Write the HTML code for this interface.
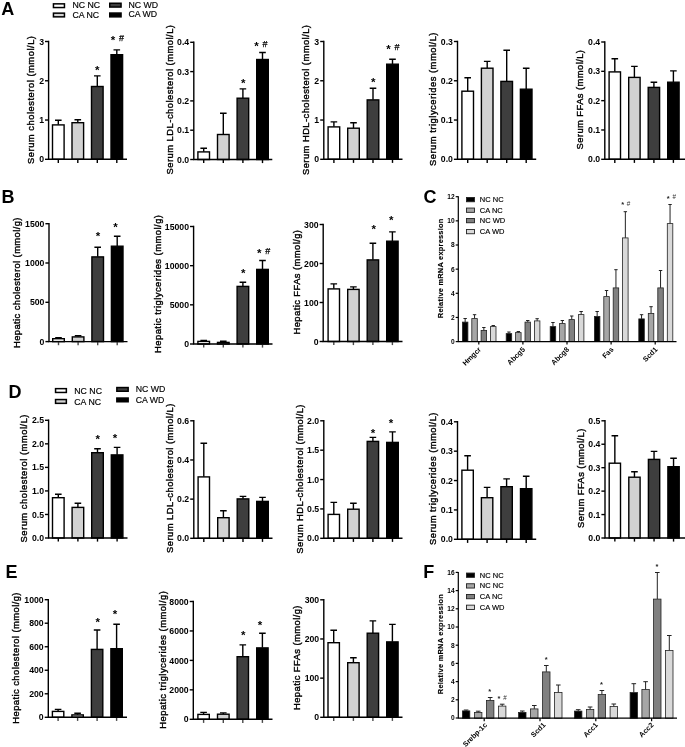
<!DOCTYPE html>
<html><head><meta charset="utf-8"><title>Figure</title>
<style>
html,body{margin:0;padding:0;background:#fff}
svg{display:block}
text{font-family:"Liberation Sans",sans-serif;fill:#000}
.l{stroke:#000;stroke-width:1.4;fill:none}
.b{stroke:#000;stroke-width:1.4}
.l2{stroke:#222;stroke-width:1;fill:none}
.b2{stroke:#222;stroke-width:0.8}
.l3{stroke:#000;stroke-width:1.2;fill:none}
.t{font-weight:bold;text-anchor:end}
.yl{text-anchor:middle;stroke:#000;stroke-width:0.38}
.lg{stroke:#000;stroke-width:0.15}
.yb{text-anchor:middle;font-weight:bold;stroke:#000;stroke-width:0.15}
.s{font-size:9px;text-anchor:middle;stroke:#000;stroke-width:0.25}
.st{font-size:11.5px;font-weight:bold;text-anchor:middle}
.s2{font-size:6.3px;text-anchor:middle;fill:#333}
.st2{font-size:7.5px;font-weight:bold;text-anchor:middle;fill:#222}
.p{font-size:18px;font-weight:bold}
.xl{font-size:7.2px;font-weight:bold;text-anchor:end}
</style></head><body>
<svg width="685" height="747" viewBox="0 0 685 747">
<rect width="685" height="747" fill="#fff"/>
<path d="M58.30 124.70V120.20M55.00 120.20H61.60" class="l"/>
<rect x="52.50" y="124.90" width="11.60" height="34.40" fill="#ffffff" class="b"/>
<path d="M58.30 159.30V162.90" class="l" style="stroke:#000"/>
<path d="M77.80 122.50V119.70M74.50 119.70H81.10" class="l"/>
<rect x="72.00" y="122.70" width="11.60" height="36.60" fill="#d2d2d2" class="b"/>
<path d="M77.80 159.30V162.90" class="l" style="stroke:#000"/>
<path d="M97.30 86.30V75.90M94.00 75.90H100.60" class="l"/>
<rect x="91.50" y="86.50" width="11.60" height="72.80" fill="#3e3e3e" class="b"/>
<path d="M97.30 159.30V162.90" class="l" style="stroke:#000"/>
<path d="M116.80 54.50V49.90M113.50 49.90H120.10" class="l"/>
<rect x="111.00" y="54.70" width="11.60" height="104.60" fill="#000000" class="b"/>
<path d="M116.80 159.30V162.90" class="l" style="stroke:#000"/>
<path d="M48.60 40.80V159.30M47.90 159.30H127.00" class="l"/>
<path d="M45.00 41.50H48.60" class="l"/>
<text x="44.00" y="44.61" class="t" font-size="8.7">3</text>
<path d="M45.00 80.77H48.60" class="l"/>
<text x="44.00" y="83.88" class="t" font-size="8.7">2</text>
<path d="M45.00 120.03H48.60" class="l"/>
<text x="44.00" y="123.15" class="t" font-size="8.7">1</text>
<path d="M45.00 159.30H48.60" class="l"/>
<text x="44.00" y="162.41" class="t" font-size="8.7">0</text>
<text transform="translate(33.57 100.00) rotate(-90)" class="yl" font-size="9.4" textLength="128.0" lengthAdjust="spacing">Serum cholesterol (mmol/L)</text>
<text x="97.30" y="73.60" class="st">*</text>
<text x="112.90" y="44.10" class="st">*</text><text x="121.40" y="41.20" class="s">#</text>
<path d="M203.70 151.70V148.20M200.40 148.20H207.00" class="l"/>
<rect x="197.90" y="151.90" width="11.60" height="7.60" fill="#ffffff" class="b"/>
<path d="M203.70 159.50V163.10" class="l" style="stroke:#000"/>
<path d="M223.30 134.30V113.20M220.00 113.20H226.60" class="l"/>
<rect x="217.50" y="134.50" width="11.60" height="25.00" fill="#d2d2d2" class="b"/>
<path d="M223.30 159.50V163.10" class="l" style="stroke:#000"/>
<path d="M242.90 98.00V88.90M239.60 88.90H246.20" class="l"/>
<rect x="237.10" y="98.20" width="11.60" height="61.30" fill="#3e3e3e" class="b"/>
<path d="M242.90 159.50V163.10" class="l" style="stroke:#000"/>
<path d="M262.50 59.30V52.50M259.20 52.50H265.80" class="l"/>
<rect x="256.70" y="59.50" width="11.60" height="100.00" fill="#000000" class="b"/>
<path d="M262.50 159.50V163.10" class="l" style="stroke:#000"/>
<path d="M193.80 41.60V159.50M193.10 159.50H272.30" class="l"/>
<path d="M190.20 42.30H193.80" class="l"/>
<text x="189.20" y="45.41" class="t" font-size="8.7">0.4</text>
<path d="M190.20 71.60H193.80" class="l"/>
<text x="189.20" y="74.71" class="t" font-size="8.7">0.3</text>
<path d="M190.20 100.90H193.80" class="l"/>
<text x="189.20" y="104.01" class="t" font-size="8.7">0.2</text>
<path d="M190.20 130.20H193.80" class="l"/>
<text x="189.20" y="133.31" class="t" font-size="8.7">0.1</text>
<path d="M190.20 159.50H193.80" class="l"/>
<text x="189.20" y="162.61" class="t" font-size="8.7">0.0</text>
<text transform="translate(173.07 99.75) rotate(-90)" class="yl" font-size="9.4" textLength="149.5" lengthAdjust="spacing">Serum LDL-cholesterol (mmol/L)</text>
<text x="243.20" y="86.60" class="st">*</text>
<text x="256.60" y="49.80" class="st">*</text><text x="265.10" y="46.90" class="s">#</text>
<path d="M333.90 126.70V121.90M330.60 121.90H337.20" class="l"/>
<rect x="328.10" y="126.90" width="11.60" height="32.40" fill="#ffffff" class="b"/>
<path d="M333.90 159.30V162.90" class="l" style="stroke:#000"/>
<path d="M353.50 128.00V122.70M350.20 122.70H356.80" class="l"/>
<rect x="347.70" y="128.20" width="11.60" height="31.10" fill="#d2d2d2" class="b"/>
<path d="M353.50 159.30V162.90" class="l" style="stroke:#000"/>
<path d="M373.00 99.70V88.20M369.70 88.20H376.30" class="l"/>
<rect x="367.20" y="99.90" width="11.60" height="59.40" fill="#3e3e3e" class="b"/>
<path d="M373.00 159.30V162.90" class="l" style="stroke:#000"/>
<path d="M392.50 64.00V59.20M389.20 59.20H395.80" class="l"/>
<rect x="386.70" y="64.20" width="11.60" height="95.10" fill="#000000" class="b"/>
<path d="M392.50 159.30V162.90" class="l" style="stroke:#000"/>
<path d="M323.80 40.80V159.30M323.10 159.30H402.50" class="l"/>
<path d="M320.20 41.50H323.80" class="l"/>
<text x="319.20" y="44.61" class="t" font-size="8.7">3</text>
<path d="M320.20 80.77H323.80" class="l"/>
<text x="319.20" y="83.88" class="t" font-size="8.7">2</text>
<path d="M320.20 120.03H323.80" class="l"/>
<text x="319.20" y="123.15" class="t" font-size="8.7">1</text>
<path d="M320.20 159.30H323.80" class="l"/>
<text x="319.20" y="162.41" class="t" font-size="8.7">0</text>
<text transform="translate(309.27 100.00) rotate(-90)" class="yl" font-size="9.4" textLength="150.0" lengthAdjust="spacing">Serum HDL-cholesterol (mmol/L)</text>
<text x="373.20" y="86.10" class="st">*</text>
<text x="388.60" y="52.80" class="st">*</text><text x="397.10" y="49.90" class="s">#</text>
<path d="M467.70 91.00V77.70M464.40 77.70H471.00" class="l"/>
<rect x="461.90" y="91.20" width="11.60" height="68.10" fill="#ffffff" class="b"/>
<path d="M467.70 159.30V162.90" class="l" style="stroke:#000"/>
<path d="M487.20 68.00V61.40M483.90 61.40H490.50" class="l"/>
<rect x="481.40" y="68.20" width="11.60" height="91.10" fill="#d2d2d2" class="b"/>
<path d="M487.20 159.30V162.90" class="l" style="stroke:#000"/>
<path d="M506.70 81.20V50.20M503.40 50.20H510.00" class="l"/>
<rect x="500.90" y="81.40" width="11.60" height="77.90" fill="#3e3e3e" class="b"/>
<path d="M506.70 159.30V162.90" class="l" style="stroke:#000"/>
<path d="M526.20 89.00V68.20M522.90 68.20H529.50" class="l"/>
<rect x="520.40" y="89.20" width="11.60" height="70.10" fill="#000000" class="b"/>
<path d="M526.20 159.30V162.90" class="l" style="stroke:#000"/>
<path d="M457.50 40.80V159.30M456.80 159.30H536.20" class="l"/>
<path d="M453.90 41.50H457.50" class="l"/>
<text x="452.90" y="44.61" class="t" font-size="8.7">0.3</text>
<path d="M453.90 80.77H457.50" class="l"/>
<text x="452.90" y="83.88" class="t" font-size="8.7">0.2</text>
<path d="M453.90 120.03H457.50" class="l"/>
<text x="452.90" y="123.15" class="t" font-size="8.7">0.1</text>
<path d="M453.90 159.30H457.50" class="l"/>
<text x="452.90" y="162.41" class="t" font-size="8.7">0.0</text>
<text transform="translate(436.27 99.25) rotate(-90)" class="yl" font-size="9.4" textLength="133.5" lengthAdjust="spacing">Serum triglycerides (mmol/L)</text>
<path d="M614.80 71.70V58.70M611.50 58.70H618.10" class="l"/>
<rect x="609.10" y="71.90" width="11.40" height="87.40" fill="#ffffff" class="b"/>
<path d="M614.80 159.30V162.90" class="l" style="stroke:#000"/>
<path d="M634.40 77.20V66.40M631.10 66.40H637.70" class="l"/>
<rect x="628.70" y="77.40" width="11.40" height="81.90" fill="#d2d2d2" class="b"/>
<path d="M634.40 159.30V162.90" class="l" style="stroke:#000"/>
<path d="M653.90 87.20V82.20M650.60 82.20H657.20" class="l"/>
<rect x="648.20" y="87.40" width="11.40" height="71.90" fill="#3e3e3e" class="b"/>
<path d="M653.90 159.30V162.90" class="l" style="stroke:#000"/>
<path d="M673.40 82.00V70.90M670.10 70.90H676.70" class="l"/>
<rect x="667.70" y="82.20" width="11.40" height="77.10" fill="#000000" class="b"/>
<path d="M673.40 159.30V162.90" class="l" style="stroke:#000"/>
<path d="M604.80 41.30V159.30M604.10 159.30H686.00" class="l"/>
<path d="M601.20 42.00H604.80" class="l"/>
<text x="600.20" y="45.11" class="t" font-size="8.7">0.4</text>
<path d="M601.20 71.33H604.80" class="l"/>
<text x="600.20" y="74.44" class="t" font-size="8.7">0.3</text>
<path d="M601.20 100.65H604.80" class="l"/>
<text x="600.20" y="103.76" class="t" font-size="8.7">0.2</text>
<path d="M601.20 129.98H604.80" class="l"/>
<text x="600.20" y="133.09" class="t" font-size="8.7">0.1</text>
<path d="M601.20 159.30H604.80" class="l"/>
<text x="600.20" y="162.41" class="t" font-size="8.7">0.0</text>
<text transform="translate(583.37 99.75) rotate(-90)" class="yl" font-size="9.4" textLength="99.5" lengthAdjust="spacing">Serum FFAs (mmol/L)</text>
<path d="M58.50 338.50V337.70M55.20 337.70H61.80" class="l"/>
<rect x="52.70" y="338.70" width="11.60" height="2.90" fill="#ffffff" class="b"/>
<path d="M58.50 341.60V345.20" class="l" style="stroke:#4a4a4a"/>
<path d="M78.10 336.70V335.70M74.80 335.70H81.40" class="l"/>
<rect x="72.30" y="336.90" width="11.60" height="4.70" fill="#d2d2d2" class="b"/>
<path d="M78.10 341.60V345.20" class="l" style="stroke:#4a4a4a"/>
<path d="M97.70 256.70V247.20M94.40 247.20H101.00" class="l"/>
<rect x="91.90" y="256.90" width="11.60" height="84.70" fill="#3e3e3e" class="b"/>
<path d="M97.70 341.60V345.20" class="l" style="stroke:#4a4a4a"/>
<path d="M117.20 246.00V236.20M113.90 236.20H120.50" class="l"/>
<rect x="111.40" y="246.20" width="11.60" height="95.40" fill="#000000" class="b"/>
<path d="M117.20 341.60V345.20" class="l" style="stroke:#4a4a4a"/>
<path d="M49.00 223.00V341.60M48.30 341.60H127.50" class="l"/>
<path d="M45.40 223.70H49.00" class="l"/>
<text x="44.40" y="226.81" class="t" font-size="8.7">1500</text>
<path d="M45.40 263.00H49.00" class="l"/>
<text x="44.40" y="266.11" class="t" font-size="8.7">1000</text>
<path d="M45.40 302.30H49.00" class="l"/>
<text x="44.40" y="305.41" class="t" font-size="8.7">500</text>
<path d="M45.40 341.60H49.00" class="l"/>
<text x="44.40" y="344.71" class="t" font-size="8.7">0</text>
<text transform="translate(19.87 282.75) rotate(-90)" class="yl" font-size="9.4" textLength="130.5" lengthAdjust="spacing">Hepatic cholesterol (mmol/g)</text>
<text x="98.00" y="239.80" class="st">*</text>
<text x="115.50" y="230.60" class="st">*</text>
<path d="M203.70 341.20V340.40M200.40 340.40H207.00" class="l"/>
<rect x="197.90" y="341.40" width="11.60" height="2.60" fill="#ffffff" class="b"/>
<path d="M203.70 344.00V347.60" class="l" style="stroke:#4a4a4a"/>
<path d="M223.30 342.20V341.20M220.00 341.20H226.60" class="l"/>
<rect x="217.50" y="342.40" width="11.60" height="1.60" fill="#d2d2d2" class="b"/>
<path d="M223.30 344.00V347.60" class="l" style="stroke:#4a4a4a"/>
<path d="M242.90 286.20V282.20M239.60 282.20H246.20" class="l"/>
<rect x="237.10" y="286.40" width="11.60" height="57.60" fill="#3e3e3e" class="b"/>
<path d="M242.90 344.00V347.60" class="l" style="stroke:#4a4a4a"/>
<path d="M262.50 269.20V260.50M259.20 260.50H265.80" class="l"/>
<rect x="256.70" y="269.40" width="11.60" height="74.60" fill="#000000" class="b"/>
<path d="M262.50 344.00V347.60" class="l" style="stroke:#4a4a4a"/>
<path d="M193.60 225.80V344.00M192.90 344.00H272.50" class="l"/>
<path d="M190.00 226.50H193.60" class="l"/>
<text x="189.00" y="229.61" class="t" font-size="8.7">15000</text>
<path d="M190.00 265.67H193.60" class="l"/>
<text x="189.00" y="268.78" class="t" font-size="8.7">10000</text>
<path d="M190.00 304.83H193.60" class="l"/>
<text x="189.00" y="307.95" class="t" font-size="8.7">5000</text>
<path d="M190.00 344.00H193.60" class="l"/>
<text x="189.00" y="347.11" class="t" font-size="8.7">0</text>
<text transform="translate(161.07 284.00) rotate(-90)" class="yl" font-size="9.4" textLength="138.0" lengthAdjust="spacing">Hepatic triglycerides (mmol/g)</text>
<text x="243.20" y="277.10" class="st">*</text>
<text x="259.30" y="256.80" class="st">*</text><text x="267.80" y="253.90" class="s">#</text>
<path d="M333.80 288.70V283.90M330.50 283.90H337.10" class="l"/>
<rect x="328.10" y="288.90" width="11.40" height="52.60" fill="#ffffff" class="b"/>
<path d="M333.80 341.50V345.10" class="l" style="stroke:#4a4a4a"/>
<path d="M353.40 289.20V286.90M350.10 286.90H356.70" class="l"/>
<rect x="347.70" y="289.40" width="11.40" height="52.10" fill="#d2d2d2" class="b"/>
<path d="M353.40 341.50V345.10" class="l" style="stroke:#4a4a4a"/>
<path d="M372.90 259.70V243.20M369.60 243.20H376.20" class="l"/>
<rect x="367.20" y="259.90" width="11.40" height="81.60" fill="#3e3e3e" class="b"/>
<path d="M372.90 341.50V345.10" class="l" style="stroke:#4a4a4a"/>
<path d="M392.40 241.00V231.90M389.10 231.90H395.70" class="l"/>
<rect x="386.70" y="241.20" width="11.40" height="100.30" fill="#000000" class="b"/>
<path d="M392.40 341.50V345.10" class="l" style="stroke:#4a4a4a"/>
<path d="M323.20 223.80V341.50M322.50 341.50H402.50" class="l"/>
<path d="M319.60 224.50H323.20" class="l"/>
<text x="318.60" y="227.61" class="t" font-size="8.7">300</text>
<path d="M319.60 263.50H323.20" class="l"/>
<text x="318.60" y="266.61" class="t" font-size="8.7">200</text>
<path d="M319.60 302.50H323.20" class="l"/>
<text x="318.60" y="305.61" class="t" font-size="8.7">100</text>
<path d="M319.60 341.50H323.20" class="l"/>
<text x="318.60" y="344.61" class="t" font-size="8.7">0</text>
<text transform="translate(299.77 282.25) rotate(-90)" class="yl" font-size="9.4" textLength="104.5" lengthAdjust="spacing">Hepatic FFAs (mmol/g)</text>
<text x="373.70" y="233.10" class="st">*</text>
<text x="391.20" y="223.60" class="st">*</text>
<path d="M58.30 497.50V494.20M55.00 494.20H61.60" class="l"/>
<rect x="52.50" y="497.70" width="11.60" height="40.30" fill="#ffffff" class="b"/>
<path d="M58.30 538.00V541.60" class="l" style="stroke:#000"/>
<path d="M77.90 507.20V503.20M74.60 503.20H81.20" class="l"/>
<rect x="72.10" y="507.40" width="11.60" height="30.60" fill="#d2d2d2" class="b"/>
<path d="M77.90 538.00V541.60" class="l" style="stroke:#000"/>
<path d="M97.50 452.50V448.70M94.20 448.70H100.80" class="l"/>
<rect x="91.70" y="452.70" width="11.60" height="85.30" fill="#3e3e3e" class="b"/>
<path d="M97.50 538.00V541.60" class="l" style="stroke:#000"/>
<path d="M117.10 454.70V447.40M113.80 447.40H120.40" class="l"/>
<rect x="111.30" y="454.90" width="11.60" height="83.10" fill="#000000" class="b"/>
<path d="M117.10 538.00V541.60" class="l" style="stroke:#000"/>
<path d="M48.60 419.60V538.00M47.90 538.00H127.50" class="l"/>
<path d="M45.00 420.30H48.60" class="l"/>
<text x="44.00" y="423.41" class="t" font-size="8.7">2.5</text>
<path d="M45.00 443.84H48.60" class="l"/>
<text x="44.00" y="446.95" class="t" font-size="8.7">2.0</text>
<path d="M45.00 467.38H48.60" class="l"/>
<text x="44.00" y="470.49" class="t" font-size="8.7">1.5</text>
<path d="M45.00 490.92H48.60" class="l"/>
<text x="44.00" y="494.03" class="t" font-size="8.7">1.0</text>
<path d="M45.00 514.46H48.60" class="l"/>
<text x="44.00" y="517.57" class="t" font-size="8.7">0.5</text>
<path d="M45.00 538.00H48.60" class="l"/>
<text x="44.00" y="541.11" class="t" font-size="8.7">0.0</text>
<text transform="translate(26.77 478.50) rotate(-90)" class="yl" font-size="9.4" textLength="128.0" lengthAdjust="spacing">Serum cholesterol (mmol/L)</text>
<text x="97.70" y="442.80" class="st">*</text>
<text x="115.00" y="441.80" class="st">*</text>
<path d="M203.80 476.70V443.20M200.50 443.20H207.10" class="l"/>
<rect x="198.10" y="476.90" width="11.40" height="61.40" fill="#ffffff" class="b"/>
<path d="M203.80 538.30V541.90" class="l" style="stroke:#000"/>
<path d="M223.40 517.50V510.70M220.10 510.70H226.70" class="l"/>
<rect x="217.70" y="517.70" width="11.40" height="20.60" fill="#d2d2d2" class="b"/>
<path d="M223.40 538.30V541.90" class="l" style="stroke:#000"/>
<path d="M243.00 498.70V496.40M239.70 496.40H246.30" class="l"/>
<rect x="237.20" y="498.90" width="11.60" height="39.40" fill="#3e3e3e" class="b"/>
<path d="M243.00 538.30V541.90" class="l" style="stroke:#000"/>
<path d="M262.50 501.20V497.40M259.20 497.40H265.80" class="l"/>
<rect x="256.70" y="501.40" width="11.60" height="36.90" fill="#000000" class="b"/>
<path d="M262.50 538.30V541.90" class="l" style="stroke:#000"/>
<path d="M193.80 420.10V538.30M193.10 538.30H272.50" class="l"/>
<path d="M190.20 420.80H193.80" class="l"/>
<text x="189.20" y="423.91" class="t" font-size="8.7">0.6</text>
<path d="M190.20 459.97H193.80" class="l"/>
<text x="189.20" y="463.08" class="t" font-size="8.7">0.4</text>
<path d="M190.20 499.13H193.80" class="l"/>
<text x="189.20" y="502.25" class="t" font-size="8.7">0.2</text>
<path d="M190.20 538.30H193.80" class="l"/>
<text x="189.20" y="541.41" class="t" font-size="8.7">0.0</text>
<text transform="translate(173.07 478.35) rotate(-90)" class="yl" font-size="9.4" textLength="149.3" lengthAdjust="spacing">Serum LDL-cholesterol (mmol/L)</text>
<path d="M333.80 514.20V502.40M330.50 502.40H337.10" class="l"/>
<rect x="328.10" y="514.40" width="11.40" height="23.90" fill="#ffffff" class="b"/>
<path d="M333.80 538.30V541.90" class="l" style="stroke:#000"/>
<path d="M353.40 509.00V503.20M350.10 503.20H356.70" class="l"/>
<rect x="347.70" y="509.20" width="11.40" height="29.10" fill="#d2d2d2" class="b"/>
<path d="M353.40 538.30V541.90" class="l" style="stroke:#000"/>
<path d="M372.90 441.20V437.40M369.60 437.40H376.20" class="l"/>
<rect x="367.20" y="441.40" width="11.40" height="96.90" fill="#3e3e3e" class="b"/>
<path d="M372.90 538.30V541.90" class="l" style="stroke:#000"/>
<path d="M392.50 442.20V431.90M389.20 431.90H395.80" class="l"/>
<rect x="386.70" y="442.40" width="11.60" height="95.90" fill="#000000" class="b"/>
<path d="M392.50 538.30V541.90" class="l" style="stroke:#000"/>
<path d="M323.80 420.10V538.30M323.10 538.30H402.50" class="l"/>
<path d="M320.20 420.80H323.80" class="l"/>
<text x="319.20" y="423.91" class="t" font-size="8.7">2.0</text>
<path d="M320.20 450.18H323.80" class="l"/>
<text x="319.20" y="453.29" class="t" font-size="8.7">1.5</text>
<path d="M320.20 479.55H323.80" class="l"/>
<text x="319.20" y="482.66" class="t" font-size="8.7">1.0</text>
<path d="M320.20 508.93H323.80" class="l"/>
<text x="319.20" y="512.04" class="t" font-size="8.7">0.5</text>
<path d="M320.20 538.30H323.80" class="l"/>
<text x="319.20" y="541.41" class="t" font-size="8.7">0.0</text>
<text transform="translate(303.07 479.10) rotate(-90)" class="yl" font-size="9.4" textLength="149.2" lengthAdjust="spacing">Serum HDL-cholesterol (mmol/L)</text>
<text x="373.00" y="436.60" class="st">*</text>
<text x="391.00" y="427.30" class="st">*</text>
<path d="M467.60 470.00V455.70M464.30 455.70H470.90" class="l"/>
<rect x="461.90" y="470.20" width="11.40" height="69.10" fill="#ffffff" class="b"/>
<path d="M467.60 539.30V542.90" class="l" style="stroke:#000"/>
<path d="M487.10 497.50V487.40M483.80 487.40H490.40" class="l"/>
<rect x="481.40" y="497.70" width="11.40" height="41.60" fill="#d2d2d2" class="b"/>
<path d="M487.10 539.30V542.90" class="l" style="stroke:#000"/>
<path d="M506.60 486.50V478.90M503.30 478.90H509.90" class="l"/>
<rect x="500.90" y="486.70" width="11.40" height="52.60" fill="#3e3e3e" class="b"/>
<path d="M506.60 539.30V542.90" class="l" style="stroke:#000"/>
<path d="M526.20 488.50V476.20M522.90 476.20H529.50" class="l"/>
<rect x="520.50" y="488.70" width="11.40" height="50.60" fill="#000000" class="b"/>
<path d="M526.20 539.30V542.90" class="l" style="stroke:#000"/>
<path d="M457.50 421.10V539.30M456.80 539.30H536.20" class="l"/>
<path d="M453.90 421.80H457.50" class="l"/>
<text x="452.90" y="424.91" class="t" font-size="8.7">0.4</text>
<path d="M453.90 451.18H457.50" class="l"/>
<text x="452.90" y="454.29" class="t" font-size="8.7">0.3</text>
<path d="M453.90 480.55H457.50" class="l"/>
<text x="452.90" y="483.66" class="t" font-size="8.7">0.2</text>
<path d="M453.90 509.93H457.50" class="l"/>
<text x="452.90" y="513.04" class="t" font-size="8.7">0.1</text>
<path d="M453.90 539.30H457.50" class="l"/>
<text x="452.90" y="542.41" class="t" font-size="8.7">0.0</text>
<text transform="translate(436.07 478.75) rotate(-90)" class="yl" font-size="9.4" textLength="132.5" lengthAdjust="spacing">Serum triglycerides (mmol/L)</text>
<path d="M614.85 463.00V435.70M611.55 435.70H618.15" class="l"/>
<rect x="609.20" y="463.20" width="11.30" height="74.80" fill="#ffffff" class="b"/>
<path d="M614.85 538.00V541.60" class="l" style="stroke:#000"/>
<path d="M634.45 477.00V471.70M631.15 471.70H637.75" class="l"/>
<rect x="628.80" y="477.20" width="11.30" height="60.80" fill="#d2d2d2" class="b"/>
<path d="M634.45 538.00V541.60" class="l" style="stroke:#000"/>
<path d="M654.05 459.20V451.40M650.75 451.40H657.35" class="l"/>
<rect x="648.40" y="459.40" width="11.30" height="78.60" fill="#3e3e3e" class="b"/>
<path d="M654.05 538.00V541.60" class="l" style="stroke:#000"/>
<path d="M673.55 466.50V458.20M670.25 458.20H676.85" class="l"/>
<rect x="667.90" y="466.70" width="11.30" height="71.30" fill="#000000" class="b"/>
<path d="M673.55 538.00V541.60" class="l" style="stroke:#000"/>
<path d="M605.00 420.10V538.00M604.30 538.00H686.00" class="l"/>
<path d="M601.40 420.80H605.00" class="l"/>
<text x="600.40" y="423.91" class="t" font-size="8.7">0.5</text>
<path d="M601.40 444.24H605.00" class="l"/>
<text x="600.40" y="447.35" class="t" font-size="8.7">0.4</text>
<path d="M601.40 467.68H605.00" class="l"/>
<text x="600.40" y="470.79" class="t" font-size="8.7">0.3</text>
<path d="M601.40 491.12H605.00" class="l"/>
<text x="600.40" y="494.23" class="t" font-size="8.7">0.2</text>
<path d="M601.40 514.56H605.00" class="l"/>
<text x="600.40" y="517.67" class="t" font-size="8.7">0.1</text>
<path d="M601.40 538.00H605.00" class="l"/>
<text x="600.40" y="541.11" class="t" font-size="8.7">0.0</text>
<text transform="translate(584.07 478.35) rotate(-90)" class="yl" font-size="9.4" textLength="99.3" lengthAdjust="spacing">Serum FFAs (mmol/L)</text>
<path d="M58.10 711.20V709.40M54.80 709.40H61.40" class="l"/>
<rect x="52.40" y="711.40" width="11.40" height="5.90" fill="#ffffff" class="b"/>
<path d="M58.10 717.30V720.90" class="l" style="stroke:#4a4a4a"/>
<path d="M77.60 714.70V713.20M74.30 713.20H80.90" class="l"/>
<rect x="71.90" y="714.90" width="11.40" height="2.40" fill="#d2d2d2" class="b"/>
<path d="M77.60 717.30V720.90" class="l" style="stroke:#4a4a4a"/>
<path d="M97.10 649.20V630.00M93.80 630.00H100.40" class="l"/>
<rect x="91.40" y="649.40" width="11.40" height="67.90" fill="#3e3e3e" class="b"/>
<path d="M97.10 717.30V720.90" class="l" style="stroke:#4a4a4a"/>
<path d="M116.60 648.50V624.30M113.30 624.30H119.90" class="l"/>
<rect x="110.90" y="648.70" width="11.40" height="68.60" fill="#000000" class="b"/>
<path d="M116.60 717.30V720.90" class="l" style="stroke:#4a4a4a"/>
<path d="M48.30 599.00V717.30M47.60 717.30H127.00" class="l"/>
<path d="M44.70 599.70H48.30" class="l"/>
<text x="43.70" y="602.81" class="t" font-size="8.7">1000</text>
<path d="M44.70 623.22H48.30" class="l"/>
<text x="43.70" y="626.33" class="t" font-size="8.7">800</text>
<path d="M44.70 646.74H48.30" class="l"/>
<text x="43.70" y="649.85" class="t" font-size="8.7">600</text>
<path d="M44.70 670.26H48.30" class="l"/>
<text x="43.70" y="673.37" class="t" font-size="8.7">400</text>
<path d="M44.70 693.78H48.30" class="l"/>
<text x="43.70" y="696.89" class="t" font-size="8.7">200</text>
<path d="M44.70 717.30H48.30" class="l"/>
<text x="43.70" y="720.41" class="t" font-size="8.7">0</text>
<text transform="translate(19.37 658.10) rotate(-90)" class="yl" font-size="9.4" textLength="131.2" lengthAdjust="spacing">Hepatic cholesterol (mmol/g)</text>
<text x="97.70" y="625.60" class="st">*</text>
<text x="115.00" y="618.10" class="st">*</text>
<path d="M203.60 714.20V712.40M200.30 712.40H206.90" class="l"/>
<rect x="197.90" y="714.40" width="11.40" height="4.90" fill="#ffffff" class="b"/>
<path d="M203.60 719.30V722.90" class="l" style="stroke:#4a4a4a"/>
<path d="M223.30 714.00V712.90M220.00 712.90H226.60" class="l"/>
<rect x="217.50" y="714.20" width="11.60" height="5.10" fill="#d2d2d2" class="b"/>
<path d="M223.30 719.30V722.90" class="l" style="stroke:#4a4a4a"/>
<path d="M242.80 656.50V644.90M239.50 644.90H246.10" class="l"/>
<rect x="237.10" y="656.70" width="11.40" height="62.60" fill="#3e3e3e" class="b"/>
<path d="M242.80 719.30V722.90" class="l" style="stroke:#4a4a4a"/>
<path d="M262.40 647.70V633.20M259.10 633.20H265.70" class="l"/>
<rect x="256.70" y="647.90" width="11.40" height="71.40" fill="#000000" class="b"/>
<path d="M262.40 719.30V722.90" class="l" style="stroke:#4a4a4a"/>
<path d="M193.30 600.80V719.30M192.60 719.30H272.50" class="l"/>
<path d="M189.70 601.50H193.30" class="l"/>
<text x="188.70" y="604.61" class="t" font-size="8.7">8000</text>
<path d="M189.70 630.95H193.30" class="l"/>
<text x="188.70" y="634.06" class="t" font-size="8.7">6000</text>
<path d="M189.70 660.40H193.30" class="l"/>
<text x="188.70" y="663.51" class="t" font-size="8.7">4000</text>
<path d="M189.70 689.85H193.30" class="l"/>
<text x="188.70" y="692.96" class="t" font-size="8.7">2000</text>
<path d="M189.70 719.30H193.30" class="l"/>
<text x="188.70" y="722.41" class="t" font-size="8.7">0</text>
<text transform="translate(165.57 659.95) rotate(-90)" class="yl" font-size="9.4" textLength="137.5" lengthAdjust="spacing">Hepatic triglycerides (mmol/g)</text>
<text x="243.20" y="638.60" class="st">*</text>
<text x="260.00" y="628.60" class="st">*</text>
<path d="M333.70 642.50V630.20M330.40 630.20H337.00" class="l"/>
<rect x="328.00" y="642.70" width="11.40" height="74.60" fill="#ffffff" class="b"/>
<path d="M333.70 717.30V720.90" class="l" style="stroke:#4a4a4a"/>
<path d="M353.40 662.50V657.70M350.10 657.70H356.70" class="l"/>
<rect x="347.70" y="662.70" width="11.40" height="54.60" fill="#d2d2d2" class="b"/>
<path d="M353.40 717.30V720.90" class="l" style="stroke:#4a4a4a"/>
<path d="M372.90 633.00V620.90M369.60 620.90H376.20" class="l"/>
<rect x="367.20" y="633.20" width="11.40" height="84.10" fill="#3e3e3e" class="b"/>
<path d="M372.90 717.30V720.90" class="l" style="stroke:#4a4a4a"/>
<path d="M392.40 641.70V624.40M389.10 624.40H395.70" class="l"/>
<rect x="386.70" y="641.90" width="11.40" height="75.40" fill="#000000" class="b"/>
<path d="M392.40 717.30V720.90" class="l" style="stroke:#4a4a4a"/>
<path d="M323.80 599.10V717.30M323.10 717.30H402.50" class="l"/>
<path d="M320.20 599.80H323.80" class="l"/>
<text x="319.20" y="602.91" class="t" font-size="8.7">300</text>
<path d="M320.20 638.97H323.80" class="l"/>
<text x="319.20" y="642.08" class="t" font-size="8.7">200</text>
<path d="M320.20 678.13H323.80" class="l"/>
<text x="319.20" y="681.25" class="t" font-size="8.7">100</text>
<path d="M320.20 717.30H323.80" class="l"/>
<text x="319.20" y="720.41" class="t" font-size="8.7">0</text>
<text transform="translate(299.77 657.75) rotate(-90)" class="yl" font-size="9.4" textLength="104.5" lengthAdjust="spacing">Hepatic FFAs (mmol/g)</text>
<text x="1.2" y="14.8" class="p">A</text>
<text x="1.6" y="203.4" class="p">B</text>
<text x="423.6" y="203.0" class="p">C</text>
<text x="8.6" y="398.4" class="p">D</text>
<text x="5.4" y="578.4" class="p">E</text>
<text x="423.3" y="578.0" class="p">F</text>
<rect x="53.45" y="3.85" width="11.00" height="3.70" fill="#ffffff" stroke="#000" stroke-width="1.5"/>
<text x="72.40" y="8.30" class="lg" font-size="8.75">NC NC</text>
<rect x="53.45" y="13.15" width="11.00" height="3.70" fill="#d2d2d2" stroke="#000" stroke-width="1.5"/>
<text x="72.40" y="17.70" class="lg" font-size="8.75">CA NC</text>
<rect x="109.75" y="3.25" width="11.30" height="3.80" fill="#3e3e3e" stroke="#000" stroke-width="1.5"/>
<text x="128.50" y="7.60" class="lg" font-size="8.75">NC WD</text>
<rect x="109.75" y="13.05" width="11.30" height="3.80" fill="#000000" stroke="#000" stroke-width="1.5"/>
<text x="128.50" y="17.40" class="lg" font-size="8.75">CA WD</text>
<rect x="55.55" y="388.65" width="10.80" height="3.80" fill="#ffffff" stroke="#000" stroke-width="1.5"/>
<text x="74.30" y="393.90" class="lg" font-size="8.75">NC NC</text>
<rect x="55.55" y="399.55" width="10.80" height="3.80" fill="#d2d2d2" stroke="#000" stroke-width="1.5"/>
<text x="74.30" y="404.70" class="lg" font-size="8.75">CA NC</text>
<rect x="116.85" y="387.55" width="11.30" height="3.70" fill="#3e3e3e" stroke="#000" stroke-width="1.5"/>
<text x="135.70" y="392.00" class="lg" font-size="8.75">NC WD</text>
<rect x="116.85" y="398.05" width="11.30" height="3.70" fill="#000000" stroke="#000" stroke-width="1.5"/>
<text x="135.70" y="402.70" class="lg" font-size="8.75">CA WD</text>
<path d="M465.15 322.10V318.50M463.45 318.50H466.85" class="l2"/>
<rect x="462.40" y="322.10" width="5.50" height="19.50" fill="#000000" class="b2"/>
<path d="M474.55 318.60V314.70M472.85 314.70H476.25" class="l2"/>
<rect x="471.80" y="318.60" width="5.50" height="23.00" fill="#a6a6a6" class="b2"/>
<path d="M483.85 330.40V327.50M482.15 327.50H485.55" class="l2"/>
<rect x="481.10" y="330.40" width="5.50" height="11.20" fill="#808080" class="b2"/>
<path d="M493.25 326.60V325.50M491.55 325.50H494.95" class="l2"/>
<rect x="490.50" y="326.60" width="5.50" height="15.00" fill="#d9d9d9" class="b2"/>
<path d="M508.95 333.60V332.00M507.25 332.00H510.65" class="l2"/>
<rect x="506.20" y="333.60" width="5.50" height="8.00" fill="#000000" class="b2"/>
<path d="M518.35 332.60V331.50M516.65 331.50H520.05" class="l2"/>
<rect x="515.60" y="332.60" width="5.50" height="9.00" fill="#a6a6a6" class="b2"/>
<path d="M527.75 322.10V320.50M526.05 320.50H529.45" class="l2"/>
<rect x="525.00" y="322.10" width="5.50" height="19.50" fill="#808080" class="b2"/>
<path d="M537.15 320.90V318.70M535.45 318.70H538.85" class="l2"/>
<rect x="534.40" y="320.90" width="5.50" height="20.70" fill="#d9d9d9" class="b2"/>
<path d="M552.95 326.60V322.50M551.25 322.50H554.65" class="l2"/>
<rect x="550.20" y="326.60" width="5.50" height="15.00" fill="#000000" class="b2"/>
<path d="M562.35 323.60V320.50M560.65 320.50H564.05" class="l2"/>
<rect x="559.60" y="323.60" width="5.50" height="18.00" fill="#a6a6a6" class="b2"/>
<path d="M571.75 319.60V316.00M570.05 316.00H573.45" class="l2"/>
<rect x="569.00" y="319.60" width="5.50" height="22.00" fill="#808080" class="b2"/>
<path d="M581.15 314.60V311.50M579.45 311.50H582.85" class="l2"/>
<rect x="578.40" y="314.60" width="5.50" height="27.00" fill="#d9d9d9" class="b2"/>
<path d="M597.15 316.40V311.50M595.45 311.50H598.85" class="l2"/>
<rect x="594.40" y="316.40" width="5.50" height="25.20" fill="#000000" class="b2"/>
<path d="M606.55 296.60V290.50M604.85 290.50H608.25" class="l2"/>
<rect x="603.80" y="296.60" width="5.50" height="45.00" fill="#a6a6a6" class="b2"/>
<path d="M615.95 287.90V269.70M614.25 269.70H617.65" class="l2"/>
<rect x="613.20" y="287.90" width="5.50" height="53.70" fill="#808080" class="b2"/>
<path d="M625.35 237.90V211.70M623.65 211.70H627.05" class="l2"/>
<rect x="622.60" y="237.90" width="5.50" height="103.70" fill="#d9d9d9" class="b2"/>
<path d="M641.55 318.90V314.70M639.85 314.70H643.25" class="l2"/>
<rect x="638.80" y="318.90" width="5.50" height="22.70" fill="#000000" class="b2"/>
<path d="M651.05 313.40V306.70M649.35 306.70H652.75" class="l2"/>
<rect x="648.30" y="313.40" width="5.50" height="28.20" fill="#a6a6a6" class="b2"/>
<path d="M660.55 287.90V270.50M658.85 270.50H662.25" class="l2"/>
<rect x="657.80" y="287.90" width="5.50" height="53.70" fill="#808080" class="b2"/>
<path d="M670.05 223.60V204.50M668.35 204.50H671.75" class="l2"/>
<rect x="667.30" y="223.60" width="5.50" height="118.00" fill="#d9d9d9" class="b2"/>
<path d="M458.30 196.20V341.60M457.80 341.60H676.50" class="l3"/>
<path d="M455.70 196.70H458.30" class="l3"/>
<text x="454.70" y="199.06" class="t" font-size="6.6">12</text>
<path d="M455.70 220.85H458.30" class="l3"/>
<text x="454.70" y="223.21" class="t" font-size="6.6">10</text>
<path d="M455.70 245.00H458.30" class="l3"/>
<text x="454.70" y="247.36" class="t" font-size="6.6">8</text>
<path d="M455.70 269.15H458.30" class="l3"/>
<text x="454.70" y="271.51" class="t" font-size="6.6">6</text>
<path d="M455.70 293.30H458.30" class="l3"/>
<text x="454.70" y="295.66" class="t" font-size="6.6">4</text>
<path d="M455.70 317.45H458.30" class="l3"/>
<text x="454.70" y="319.81" class="t" font-size="6.6">2</text>
<path d="M455.70 341.60H458.30" class="l3"/>
<text x="454.70" y="343.96" class="t" font-size="6.6">0</text>
<path d="M478.80 341.60V344.60" class="l3"/>
<path d="M522.90 341.60V344.60" class="l3"/>
<path d="M567.00 341.60V344.60" class="l3"/>
<path d="M611.10 341.60V344.60" class="l3"/>
<path d="M655.20 341.60V344.60" class="l3"/>
<text transform="translate(443.15 268.45) rotate(-90)" class="yb" font-size="7.4" textLength="99.5" lengthAdjust="spacing">Relative mRNA expression</text>
<text transform="translate(481.50 350.00) rotate(-45)" class="xl">Hmgcr</text>
<text transform="translate(525.50 350.00) rotate(-45)" class="xl">Abcg5</text>
<text transform="translate(569.50 350.00) rotate(-45)" class="xl">Abcg8</text>
<text transform="translate(614.00 350.00) rotate(-45)" class="xl">Fas</text>
<text transform="translate(658.00 350.00) rotate(-45)" class="xl">Scd1</text>
<rect x="466.45" y="197.45" width="8" height="4.3" fill="#000000" stroke="#222" stroke-width="0.9"/>
<text x="479.80" y="201.80" class="lg" font-size="7.5">NC NC</text>
<rect x="466.45" y="208.05" width="8" height="4.3" fill="#a6a6a6" stroke="#222" stroke-width="0.9"/>
<text x="479.80" y="212.60" class="lg" font-size="7.5">CA NC</text>
<rect x="466.45" y="218.45" width="8" height="4.3" fill="#808080" stroke="#222" stroke-width="0.9"/>
<text x="479.80" y="222.90" class="lg" font-size="7.5">NC WD</text>
<rect x="466.45" y="229.45" width="8" height="4.3" fill="#d9d9d9" stroke="#222" stroke-width="0.9"/>
<text x="479.80" y="233.70" class="lg" font-size="7.5">CA WD</text>
<text x="622.60" y="207.20" class="st2">*</text><text x="628.50" y="206.00" class="s2">#</text>
<text x="668.30" y="200.60" class="st2">*</text><text x="674.20" y="199.40" class="s2">#</text>
<path d="M466.10 710.90V710.00M463.80 710.00H468.40" class="l2"/>
<rect x="462.40" y="710.90" width="7.40" height="7.30" fill="#000000" class="b2"/>
<path d="M478.20 712.40V711.20M475.90 711.20H480.50" class="l2"/>
<rect x="474.50" y="712.40" width="7.40" height="5.80" fill="#a6a6a6" class="b2"/>
<path d="M490.20 700.40V697.50M487.90 697.50H492.50" class="l2"/>
<rect x="486.50" y="700.40" width="7.40" height="17.80" fill="#808080" class="b2"/>
<path d="M502.20 706.10V704.20M499.90 704.20H504.50" class="l2"/>
<rect x="498.50" y="706.10" width="7.40" height="12.10" fill="#d9d9d9" class="b2"/>
<path d="M522.30 712.40V711.00M520.00 711.00H524.60" class="l2"/>
<rect x="518.60" y="712.40" width="7.40" height="5.80" fill="#000000" class="b2"/>
<path d="M534.30 708.90V705.50M532.00 705.50H536.60" class="l2"/>
<rect x="530.60" y="708.90" width="7.40" height="9.30" fill="#a6a6a6" class="b2"/>
<path d="M546.30 671.90V665.50M544.00 665.50H548.60" class="l2"/>
<rect x="542.60" y="671.90" width="7.40" height="46.30" fill="#808080" class="b2"/>
<path d="M558.30 692.40V685.00M556.00 685.00H560.60" class="l2"/>
<rect x="554.60" y="692.40" width="7.40" height="25.80" fill="#d9d9d9" class="b2"/>
<path d="M578.20 711.10V709.70M575.90 709.70H580.50" class="l2"/>
<rect x="574.50" y="711.10" width="7.40" height="7.10" fill="#000000" class="b2"/>
<path d="M590.10 709.60V707.00M587.80 707.00H592.40" class="l2"/>
<rect x="586.40" y="709.60" width="7.40" height="8.60" fill="#a6a6a6" class="b2"/>
<path d="M601.90 694.60V690.50M599.60 690.50H604.20" class="l2"/>
<rect x="598.20" y="694.60" width="7.40" height="23.60" fill="#808080" class="b2"/>
<path d="M613.80 706.60V704.00M611.50 704.00H616.10" class="l2"/>
<rect x="610.10" y="706.60" width="7.40" height="11.60" fill="#d9d9d9" class="b2"/>
<path d="M633.80 692.60V683.70M631.50 683.70H636.10" class="l2"/>
<rect x="630.10" y="692.60" width="7.40" height="25.60" fill="#000000" class="b2"/>
<path d="M645.60 689.60V681.70M643.30 681.70H647.90" class="l2"/>
<rect x="641.90" y="689.60" width="7.40" height="28.60" fill="#a6a6a6" class="b2"/>
<path d="M657.30 599.10V572.50M655.00 572.50H659.60" class="l2"/>
<rect x="653.60" y="599.10" width="7.40" height="119.10" fill="#808080" class="b2"/>
<path d="M669.30 650.60V635.50M667.00 635.50H671.60" class="l2"/>
<rect x="665.60" y="650.60" width="7.40" height="67.60" fill="#d9d9d9" class="b2"/>
<path d="M458.30 571.90V718.20M457.80 718.20H677.00" class="l3"/>
<path d="M455.70 572.40H458.30" class="l3"/>
<text x="454.70" y="574.76" class="t" font-size="6.6">16</text>
<path d="M455.70 590.60H458.30" class="l3"/>
<text x="454.70" y="592.96" class="t" font-size="6.6">14</text>
<path d="M455.70 608.80H458.30" class="l3"/>
<text x="454.70" y="611.16" class="t" font-size="6.6">12</text>
<path d="M455.70 627.00H458.30" class="l3"/>
<text x="454.70" y="629.36" class="t" font-size="6.6">10</text>
<path d="M455.70 645.20H458.30" class="l3"/>
<text x="454.70" y="647.56" class="t" font-size="6.6">8</text>
<path d="M455.70 663.40H458.30" class="l3"/>
<text x="454.70" y="665.76" class="t" font-size="6.6">6</text>
<path d="M455.70 681.60H458.30" class="l3"/>
<text x="454.70" y="683.96" class="t" font-size="6.6">4</text>
<path d="M455.70 699.80H458.30" class="l3"/>
<text x="454.70" y="702.16" class="t" font-size="6.6">2</text>
<path d="M455.70 718.00H458.30" class="l3"/>
<text x="454.70" y="720.36" class="t" font-size="6.6">0</text>
<path d="M484.20 718.20V721.20" class="l3"/>
<path d="M540.00 718.20V721.20" class="l3"/>
<path d="M595.80 718.20V721.20" class="l3"/>
<path d="M651.60 718.20V721.20" class="l3"/>
<text transform="translate(443.15 644.20) rotate(-90)" class="yb" font-size="7.4" textLength="100.0" lengthAdjust="spacing">Relative mRNA expression</text>
<text transform="translate(487.50 725.50) rotate(-45)" class="xl">Srebp-1c</text>
<text transform="translate(546.00 725.50) rotate(-45)" class="xl">Scd1</text>
<text transform="translate(598.30 725.50) rotate(-45)" class="xl">Acc1</text>
<text transform="translate(654.00 725.50) rotate(-45)" class="xl">Acc2</text>
<rect x="466.45" y="573.05" width="8" height="4.3" fill="#000000" stroke="#222" stroke-width="0.9"/>
<text x="479.80" y="577.70" class="lg" font-size="7.5">NC NC</text>
<rect x="466.45" y="583.75" width="8" height="4.3" fill="#a6a6a6" stroke="#222" stroke-width="0.9"/>
<text x="479.80" y="588.40" class="lg" font-size="7.5">NC NC</text>
<rect x="466.45" y="594.45" width="8" height="4.3" fill="#808080" stroke="#222" stroke-width="0.9"/>
<text x="479.80" y="599.00" class="lg" font-size="7.5">CA NC</text>
<rect x="466.45" y="605.15" width="8" height="4.3" fill="#d9d9d9" stroke="#222" stroke-width="0.9"/>
<text x="479.80" y="609.50" class="lg" font-size="7.5">CA WD</text>
<text x="489.80" y="694.10" class="st2">*</text>
<text x="499.00" y="700.70" class="st2">*</text><text x="504.90" y="699.50" class="s2">#</text>
<text x="546.20" y="661.90" class="st2">*</text>
<text x="601.50" y="686.50" class="st2">*</text>
<text x="657.00" y="569.20" class="st2">*</text>
</svg>
</body></html>
